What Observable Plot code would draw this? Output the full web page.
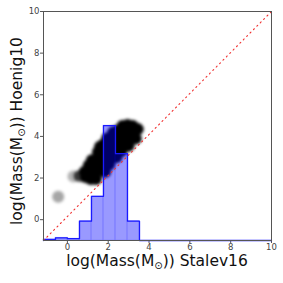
<!DOCTYPE html>
<html><head><meta charset="utf-8">
<script src="https://cdn.jsdelivr.net/npm/d3@7"></script>
<script src="https://cdn.jsdelivr.net/npm/@observablehq/plot@0.6"></script>
<style>body{margin:0;background:#fff;font-family:"DejaVu Sans",sans-serif}</style>
</head><body><div id="chart"></div>
<script>
// axes
const xDomain = [-1.17, 10];
const yDomain = [-1, 10];
const xTicks = [0, 2, 4, 6, 8, 10];
const yTicks = [0, 2, 4, 6, 8, 10];
const xLabel = ["log(Mass(M", "⊙", ")) Stalev16"];
const yLabel = ["log(Mass(M", "⊙", ")) Hoenig10"];

// histogram of Stalev16 masses (19 bins), bar tops in y-axis units (base -1)
const binEdges = [-1.17, -0.582, 0.006, 0.594, 1.182, 1.769, 2.357, 2.945, 3.533, 4.121, 4.709, 5.296, 5.884, 6.472, 7.06, 7.648, 8.236, 8.824, 9.412, 10];
const binTops = [-0.95, -0.87, -0.91, -0.07, 1.12, 4.52, 3.17, -0.07, -1, -1, -1, -1, -1, -1, -1, -1, -1, -1, -1];
const histBase = -1;

// density cloud of (Stalev16, Hoenig10) pairs
const cloudX = [-0.45, 0.3, 0.6, 0.9, 1.15, 1.4, 0.85, 1.05, 1.3, 1.6, 1.85, 1.2, 1.5, 1.8, 2.05, 1.5, 1.8, 2.1, 2.4, 1.6, 1.75, 2.05, 2.35, 2.65, 1.95, 2.1, 2.4, 2.7, 3.0, 2.25, 2.5, 2.8, 3.1, 3.35, 2.7, 2.95, 3.2, 3.45];
const cloudY = [1.1, 2.08, 2.1, 2.05, 1.95, 1.95, 2.3, 2.6, 2.45, 2.4, 2.3, 2.85, 2.9, 2.75, 2.65, 3.25, 3.3, 3.15, 3.0, 3.5, 3.6, 3.6, 3.5, 3.3, 3.9, 3.95, 3.95, 3.75, 3.55, 4.2, 4.3, 4.25, 4.05, 3.9, 4.5, 4.55, 4.5, 4.35];
const cloudA = [0.35, 0.3, 0.7, 1, 1, 1, 1, 1, 1, 1, 1, 1, 1, 1, 1, 1, 1, 1, 1, 1, 1, 1, 1, 1, 1, 1, 1, 1, 1, 1, 1, 1, 1, 1, 1, 1, 1, 1];

// one-to-one reference line
const diagX = [-1.17, 10];
const diagY = [-1, 10];

const bars = binTops.map((t, i) => ({x1: binEdges[i], x2: binEdges[i + 1], y1: histBase, y2: t}));
const outline = [{x: binEdges[0], y: histBase}];
binTops.forEach((t, i) => { outline.push({x: binEdges[i], y: t}); outline.push({x: binEdges[i + 1], y: t}); });
outline.push({x: binEdges[binEdges.length - 1], y: histBase});
const cloud = cloudX.map((x, i) => ({x, y: cloudY[i], a: cloudA[i]}));
const diag = diagX.map((x, i) => ({x, y: diagY[i]}));

const plot = Plot.plot({
  width: 283, height: 283,
  marginLeft: 43, marginRight: 12, marginTop: 11, marginBottom: 43,
  style: {fontFamily: "DejaVu Sans", fontSize: "8.5px", color: "#444", background: "#fff"},
  x: {domain: xDomain, ticks: xTicks, tickSize: 3, tickPadding: 0, label: null},
  y: {domain: yDomain, ticks: yTicks, tickSize: 3, tickPadding: 1, label: null},
  marks: [
    Plot.dot(cloud, {x: "x", y: "y", r: 6, fill: "black", fillOpacity: "a", stroke: null}),
    Plot.rect(bars, {x1: "x1", x2: "x2", y1: "y1", y2: "y2", fill: "blue", fillOpacity: 0.4, stroke: "blue", strokeOpacity: 0.12}),
    Plot.line(outline, {x: "x", y: "y", stroke: "#1a1aff", strokeWidth: 1.3}),
    Plot.line(diag, {x: "x", y: "y", stroke: "#f03030", strokeWidth: 1.1, strokeDasharray: "1.2,3.6"}),
    Plot.frame({stroke: "#555"})
  ]
});

const svg = d3.select(plot);
const defs = svg.insert("defs", ":first-child");
defs.append("filter").attr("id", "cloudblur").attr("x", "-50%").attr("y", "-50%").attr("width", "200%").attr("height", "200%")
  .append("feGaussianBlur").attr("stdDeviation", 1.7);
svg.selectAll('g[aria-label="dot"]').attr("filter", "url(#cloudblur)");
svg.selectAll('g[aria-label="x-axis tick"] path, g[aria-label="y-axis tick"] path').attr("stroke", "#555");

function addLabel(parts, x, y, rotate) {
  const t = svg.append("text").attr("text-anchor", "middle")
    .attr("font-family", "DejaVu Sans").attr("font-size", 15.5).attr("fill", "#111")
    .attr("transform", `translate(${x},${y})` + (rotate ? " rotate(-90)" : ""));
  t.append("tspan").text(parts[0]);
  t.append("tspan").attr("font-size", 10).attr("dy", 3).text(parts[1]);
  t.append("tspan").attr("dy", -3).text(parts[2]);
}
addLabel(xLabel, 157, 266, false);
addLabel(yLabel, 22, 131, true);

document.getElementById("chart").append(plot);
</script>
</body></html>
